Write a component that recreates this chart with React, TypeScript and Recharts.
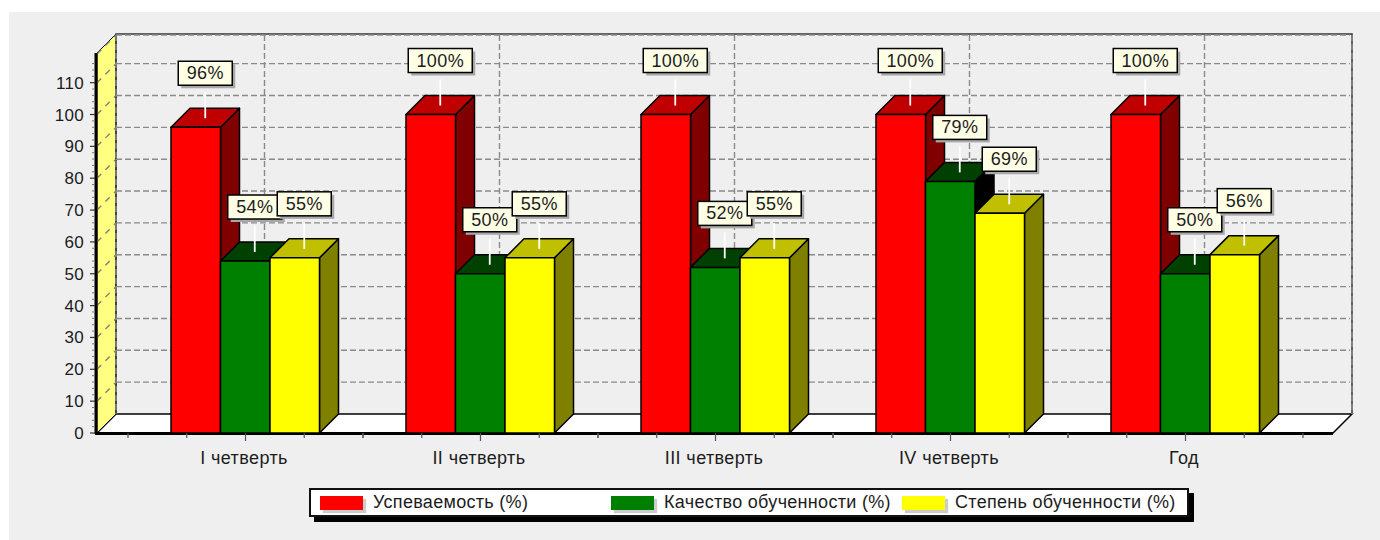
import { BarChart, Bar, XAxis, YAxis, CartesianGrid, LabelList, Legend } from "recharts";

const categories = ["I четверть", "II четверть", "III четверть", "IV четверть", "Год"];
const seriesNames = ["Успеваемость (%)", "Качество обученности (%)", "Степень обученности (%)"];
const progress = [96, 100, 100, 100, 100];
const quality = [54, 50, 52, 79, 50];
const degree = [55, 55, 55, 69, 56];
const yTicks = [0, 10, 20, 30, 40, 50, 60, 70, 80, 90, 100, 110];

const chartData = categories.map((name, i) => ({
  name,
  progress: progress[i],
  quality: quality[i],
  degree: degree[i],
}));

const FONT = '"Liberation Sans", Arial, sans-serif';
const TEXT = "#1c1c1c";
const DEPTH = 19; // 3d offset of the back wall
const LEFT = 97;
const RIGHT = 1333;
const TOP = 53;
const BOTTOM = 433;

// panel, yellow side wall, back wall and floor, sits under the chart's own svg
const ChartWalls = () => (
  <svg width={1380} height={540} style={{ position: "absolute", left: 0, top: 0 }}>
    <rect x={9} y={12} width={1371} height={528} fill="#efefef" />
    <polygon
      points={`${LEFT},${BOTTOM} ${LEFT + DEPTH},${BOTTOM - DEPTH} ${RIGHT + DEPTH},${BOTTOM - DEPTH} ${RIGHT},${BOTTOM}`}
      fill="#fff"
      stroke="#000"
      strokeWidth={1.5}
    />
    <polygon
      points={`${LEFT},${TOP} ${LEFT + DEPTH},${TOP - DEPTH} ${LEFT + DEPTH},${BOTTOM - DEPTH} ${LEFT},${BOTTOM}`}
      fill="#ffff80"
      stroke="#000"
      strokeWidth={1}
    />
    <polyline
      points={`${LEFT + DEPTH},${BOTTOM - DEPTH} ${LEFT + DEPTH},${TOP - DEPTH} ${RIGHT + DEPTH},${TOP - DEPTH} ${RIGHT + DEPTH},${BOTTOM - DEPTH}`}
      fill="none"
      stroke="#333"
      strokeWidth={1.5}
    />
  </svg>
);

// thick axis lines go on top of the bars' feet
const AxisLines = () => (
  <g>
    <line x1={LEFT - 1} y1={TOP} x2={LEFT - 1} y2={BOTTOM + 1} stroke="#000" strokeWidth={3} />
    <line x1={LEFT - 2} y1={BOTTOM + 0.5} x2={RIGHT} y2={BOTTOM + 0.5} stroke="#000" strokeWidth={3} />
  </g>
);

const gridHorizontal = (p: any) => {
  // the zero line is the solid wall edge
  if (p.y1 >= BOTTOM - 1) return <g key={`h-${p.index}`} />;
  return (
    <g key={`h-${p.index}`}>
      <line
        x1={p.x1}
        y1={p.y1}
        x2={p.x1 + DEPTH}
        y2={p.y1 - DEPTH}
        stroke="#808080"
        strokeWidth={1.4}
        strokeDasharray="6 6"
      />
      <line
        x1={p.x1 + DEPTH}
        y1={p.y1 - DEPTH}
        x2={p.x2 + DEPTH - 2}
        y2={p.y2 - DEPTH}
        stroke="#8a8a8a"
        strokeWidth={1.4}
        strokeDasharray="6 3"
      />
    </g>
  );
};

const gridVertical = (p: any) => (
  <line
    key={`v-${p.index}`}
    x1={p.x1 + DEPTH}
    y1={p.y1 - DEPTH}
    x2={p.x2 + DEPTH}
    y2={p.y2 - DEPTH}
    stroke="#8a8a8a"
    strokeWidth={1.4}
    strokeDasharray="6 3"
  />
);

const makeBox = (front: string, top: string, side: string) => (p: any) => {
  const { x, y, width, height } = p;
  const r = x + width;
  const b = y + height;
  return (
    <g stroke="#000" strokeWidth={1.5} strokeLinejoin="round">
      <polygon points={`${r},${y} ${r + DEPTH},${y - DEPTH} ${r + DEPTH},${b - DEPTH} ${r},${b}`} fill={side} />
      <polygon points={`${x},${y} ${x + DEPTH},${y - DEPTH} ${r + DEPTH},${y - DEPTH} ${r},${y}`} fill={top} />
      <rect x={x} y={y} width={width} height={height} fill={front} />
    </g>
  );
};

const Callout = (p: any) => {
  const { x, y, width, value } = p;
  const cx = x + width / 2 + DEPTH / 2;
  const w = value >= 100 ? 64 : 54;
  const h = 24;
  const boxY = y - 66;
  return (
    <g>
      <line x1={cx} y1={y - 35} x2={cx} y2={y - 9} stroke="#fff" strokeWidth={1.8} />
      <rect x={cx - w / 2 + 3} y={boxY + 3} width={w} height={h} fill="#a8a8a8" />
      <rect x={cx - w / 2} y={boxY} width={w} height={h} fill="#ffffe6" stroke="#000" strokeWidth={1.5} />
      <text
        x={cx}
        y={boxY + 18}
        textAnchor="middle"
        fontSize={18}
        letterSpacing={0.4}
        fontFamily={FONT}
        fill={TEXT}
      >
        {`${value}%`}
      </text>
    </g>
  );
};

const YTick = (p: any) => {
  const { x, y, payload } = p;
  const step = 6.37;
  const minors = payload.value === 110 ? [1, 2, 3] : [1, 2, 3, 4];
  return (
    <g>
      <line x1={x - 7} y1={y} x2={x - 2} y2={y} stroke="#333" strokeWidth={1.2} />
      {minors.map((k) => (
        <line key={k} x1={x - 5} y1={y - k * step} x2={x - 2} y2={y - k * step} stroke="#777" />
      ))}
      <text x={x - 13} y={y + 6} textAnchor="end" fontSize={17} letterSpacing={0.3} fontFamily={FONT} fill={TEXT}>
        {payload.value}
      </text>
    </g>
  );
};

const XTick = (p: any) => {
  const { x, payload } = p;
  const minor = 58.75;
  return (
    <g>
      <line x1={x} y1={BOTTOM} x2={x} y2={BOTTOM + 8} stroke="#555" strokeWidth={1.2} />
      {[-2, -1, 1, 2].map((k) => (
        <line key={k} x1={x + k * minor} y1={BOTTOM} x2={x + k * minor} y2={BOTTOM + 5} stroke="#555" strokeWidth={1.2} />
      ))}
      <text x={x - 1.5} y={BOTTOM + 31} textAnchor="middle" fontSize={18} letterSpacing={0.4} fontFamily={FONT} fill={TEXT}>
        {payload.value}
      </text>
    </g>
  );
};

const LegendBox = ({ payload }: any) => (
  <div
    style={{
      boxSizing: "border-box",
      width: 880,
      height: 29,
      background: "#fff",
      border: "2px solid #111",
      boxShadow: "5px 5px 0 #000",
      display: "flex",
      alignItems: "center",
      fontFamily: FONT,
      fontSize: 18,
      letterSpacing: 0.3,
      color: TEXT,
      paddingLeft: 9,
    }}
  >
    {(payload || []).map((e: any) => (
      <div key={e.value} style={{ width: 291, display: "flex", alignItems: "center", flex: "none" }}>
        <span style={{ width: 43, height: 14, background: e.color, boxShadow: "3px 3px 1px #ccc", marginRight: 10 }} />
        <span style={{ whiteSpace: "nowrap" }}>{e.value}</span>
      </div>
    ))}
  </div>
);

export default function App() {
  return (
    <div style={{ position: "fixed", left: 0, top: 0, width: 1380, height: 540, background: "#fff" }}>
      <ChartWalls />
      <BarChart
        width={1380}
        height={540}
        data={chartData}
        margin={{ top: TOP + 1, right: 47, bottom: 67, left: 47 }}
        barSize={49.5}
        barGap={0}
      >
        <CartesianGrid horizontal={gridHorizontal} vertical={gridVertical} />
        <XAxis
          dataKey="name"
          height={40}
          padding={{ left: 31, right: 30 }}
          axisLine={false}
          tickLine={false}
          interval={0}
          tick={XTick}
        />
        <YAxis
          width={50}
          domain={[0, 119]}
          ticks={yTicks}
          axisLine={false}
          tickLine={false}
          tickSize={0}
          tickMargin={0}
          interval={0}
          tick={YTick}
        />
        <Legend
          layout="vertical"
          align="center"
          verticalAlign="middle"
          itemSorter={(e: any) => seriesNames.indexOf(e.value)}
          wrapperStyle={{ left: 309, top: 488, width: 880, bottom: "auto", right: "auto" }}
          content={LegendBox}
        />
        <Bar
          dataKey="progress"
          name={seriesNames[0]}
          fill="#ff0000"
          shape={makeBox("#ff0000", "#c00000", "#800000")}
          isAnimationActive={false}
        >
          <LabelList dataKey="progress" content={Callout} />
        </Bar>
        <Bar
          dataKey="quality"
          name={seriesNames[1]}
          fill="#008000"
          shape={makeBox("#008000", "#004000", "#000000")}
          isAnimationActive={false}
        >
          <LabelList dataKey="quality" content={Callout} />
        </Bar>
        <Bar
          dataKey="degree"
          name={seriesNames[2]}
          fill="#ffff00"
          shape={makeBox("#ffff00", "#c0c000", "#808000")}
          isAnimationActive={false}
        >
          <LabelList dataKey="degree" content={Callout} />
        </Bar>
        <AxisLines />
      </BarChart>
    </div>
  );
}
